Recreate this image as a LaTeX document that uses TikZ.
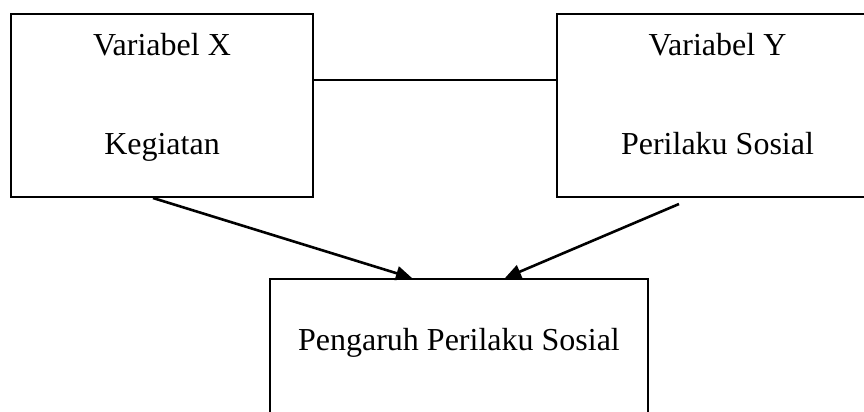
\documentclass[tikz,border=0pt]{standalone}
\usepackage{fontspec}
\setmainfont{Liberation Serif}
\usetikzlibrary{arrows.meta}
\tikzset{
  frame/.style={draw, line width=1pt, inner sep=0pt},
  label text/.style={anchor=base, inner sep=0pt, font=\fontsize{16}{19}\selectfont},
  link/.style={line width=1pt},
  flow/.style={line width=1.3pt, -{Triangle[length=8pt,width=7pt]}}
}
\begin{document}
\begin{tikzpicture}[x=0.5pt, y=-0.5pt]
  \useasboundingbox (0,0) rectangle (864,412);
  \clip (0,0) rectangle (864,412);
  % the three boxes
  \node[frame, minimum width=151pt, minimum height=91.5pt] (X) at (162,105.5) {};
  \node[frame, minimum width=160.5pt, minimum height=91.5pt] (Y) at (717.5,105.5) {};
  \node[frame, minimum width=189pt, minimum height=73pt] (Z) at (459,352) {};
  % box texts
  \node[label text] (xa) at (162,55) {Variabel X};
  \node[label text] (xb) at (162,155) {Kegiatan};
  \node[label text] (ya) at (717.5,55) {Variabel Y};
  \node[label text] (yb) at (717.5,155) {Perilaku Sosial};
  \node[label text] (za) at (459,350) {Pengaruh Perilaku Sosial};
  % connectors
  \draw[link] ([yshift=12.75pt]X.east) -- ([yshift=12.75pt]Y.west);
  \draw[flow] ([xshift=-4.5pt]X.south) -- ([xshift=-23.5pt]Z.north);
  \draw[flow] ([xshift=-19.25pt,yshift=-3pt]Y.south) -- ([xshift=23pt]Z.north);
\end{tikzpicture}
\end{document}
